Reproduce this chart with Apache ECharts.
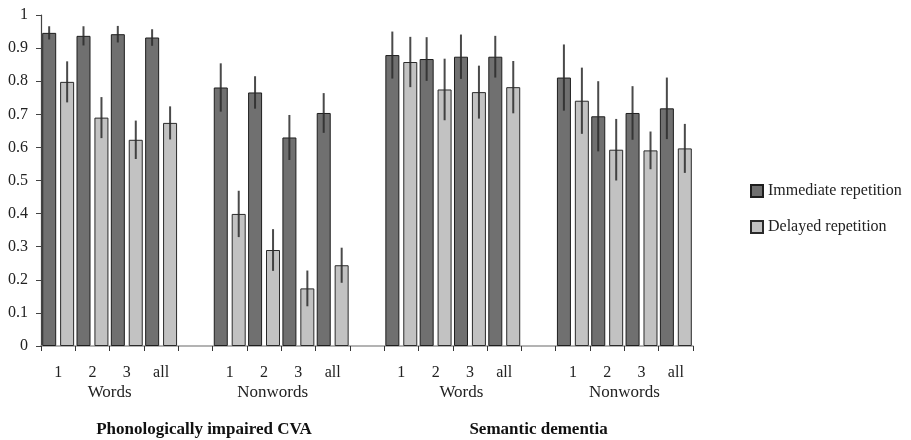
<!DOCTYPE html>
<html>
<head>
<meta charset="utf-8">
<script src="https://cdn.jsdelivr.net/npm/echarts@6/dist/echarts.min.js"></script>
<style>
html,body{margin:0;padding:0;background:#fff;}
#chart{width:911px;height:440px;}
</style>
</head>
<body>
<div id="chart"></div>
<script>
// ---- data ----
const itemLabels = ['1', '2', '3', 'all'];
const conditionLabels = ['Words', 'Nonwords', 'Words', 'Nonwords'];
const groupLabels = ['Phonologically impaired CVA', 'Semantic dementia'];
const seriesNames = ['Immediate repetition', 'Delayed repetition'];
const yTicks = [0, 0.1, 0.2, 0.3, 0.4, 0.5, 0.6, 0.7, 0.8, 0.9, 1];

const immediate    = [0.946, 0.937, 0.942, 0.932,  0.781, 0.766, 0.630, 0.704,  0.879, 0.867, 0.874, 0.874,  0.811, 0.694, 0.704, 0.718];
const immediateErr = [0.020, 0.029, 0.025, 0.025,  0.073, 0.049, 0.068, 0.060,  0.071, 0.066, 0.067, 0.063,  0.100, 0.106, 0.081, 0.093];
const delayed      = [0.798, 0.690, 0.623, 0.674,  0.399, 0.290, 0.174, 0.244,  0.858, 0.775, 0.767, 0.782,  0.741, 0.593, 0.591, 0.597];
const delayedErr   = [0.062, 0.062, 0.058, 0.050,  0.070, 0.063, 0.054, 0.053,  0.076, 0.093, 0.080, 0.079,  0.100, 0.093, 0.057, 0.074];

// ---- build category axis: 4 conditions x 4 items, with an empty slot between conditions ----
const categories = [];
const slotIndex = [];   // category index for each data point
conditionLabels.forEach((c, g) => {
  itemLabels.forEach((it) => { slotIndex.push(categories.length); categories.push(it); });
  if (g < conditionLabels.length - 1) categories.push('');
});
function toSlots(arr) {
  const out = categories.map(() => '-');
  arr.forEach((v, i) => { out[slotIndex[i]] = v; });
  return out;
}
function errData(vals, errs) {
  return vals.map((v, i) => [slotIndex[i], v, errs[i]]);
}

// secondary label axes (quarter-slot resolution, boundaryGap false)
const nSlots = categories.length;
const quarterCount = nSlots * 4 + 1;
const condAxis = Array(quarterCount).fill('');
const condPos = [8, 27, 49, 68];
conditionLabels.forEach((c, i) => { condAxis[condPos[i]] = c; });
const groupAxis = Array(quarterCount).fill('');
const groupPos = [19, 58];
groupLabels.forEach((g, i) => { groupAxis[groupPos[i]] = g; });

const FONT = "'Liberation Serif', 'Times New Roman', serif";
const chart = echarts.init(document.getElementById('chart'));

function errSeries(name, vals, errs, frac) {
  return {
    type: 'custom',
    name: name + ' error',
    xAxisIndex: 0, yAxisIndex: 0,
    z: 5,
    silent: true,
    data: errData(vals, errs),
    renderItem: function (params, api) {
      const idx = api.value(0), v = api.value(1), e = api.value(2);
      const band = api.size([1, 0])[0];
      const top = api.coord([idx, v + e]);
      const bot = api.coord([idx, v - e]);
      const x = top[0] + band * frac;
      return {
        type: 'line',
        shape: { x1: x, y1: top[1], x2: x, y2: bot[1] },
        style: { stroke: '#2a2a2a', lineWidth: 2, opacity: 0.85 }
      };
    }
  };
}

chart.setOption({
  animation: false,
  backgroundColor: '#ffffff',
  textStyle: { fontFamily: FONT },
  grid: { left: 41, right: 218, top: 15, bottom: 94, containLabel: false },
  legend: {
    orient: 'vertical',
    left: 750, top: 183, padding: 0,
    itemWidth: 12, itemHeight: 12, itemGap: 20,
    icon: 'rect',
    data: seriesNames,
    textStyle: { fontFamily: FONT, fontSize: 16, color: '#222' }
  },
  xAxis: [
    {
      type: 'category', data: categories, position: 'bottom',
      axisLine: { lineStyle: { color: '#9a9a9a', width: 1.5 } },
      axisTick: { show: true, interval: 0, length: 5, lineStyle: { color: '#333' } },
      axisLabel: { interval: 0, margin: 19, fontFamily: FONT, fontSize: 16, color: '#222' },
      splitLine: { show: false }
    },
    {
      type: 'category', data: condAxis, boundaryGap: false, position: 'bottom',
      axisLine: { show: false }, axisTick: { show: false }, splitLine: { show: false },
      axisLabel: { interval: 0, margin: 38, fontFamily: FONT, fontSize: 17, color: '#222' }
    },
    {
      type: 'category', data: groupAxis, boundaryGap: false, position: 'bottom',
      axisLine: { show: false }, axisTick: { show: false }, splitLine: { show: false },
      axisLabel: { interval: 0, margin: 75, fontFamily: FONT, fontSize: 17, fontWeight: 'bold', color: '#111' }
    }
  ],
  yAxis: {
    type: 'value', min: yTicks[0], max: yTicks[yTicks.length - 1], interval: 0.1,
    axisLine: { show: true, lineStyle: { color: '#444', width: 1.2 } },
    axisTick: { show: true, length: 5, lineStyle: { color: '#444' } },
    axisLabel: { margin: 13, fontFamily: FONT, fontSize: 16, color: '#222',
      formatter: (v) => String(Math.round(v * 10) / 10) },
    splitLine: { show: false }
  },
  series: [
    {
      type: 'bar', name: seriesNames[0], data: toSlots(immediate),
      barWidth: 14, barGap: '28%',
      itemStyle: { color: '#707070', borderColor: '#1e1e1e', borderWidth: 1 }
    },
    {
      type: 'bar', name: seriesNames[1], data: toSlots(delayed),
      barWidth: 14, barGap: '28%',
      itemStyle: { color: '#c2c2c2', borderColor: '#2a2a2a', borderWidth: 1 }
    },
    errSeries(seriesNames[0], immediate, immediateErr, -0.262),
    errSeries(seriesNames[1], delayed, delayedErr, 0.262)
  ]
});
</script>
</body>
</html>
